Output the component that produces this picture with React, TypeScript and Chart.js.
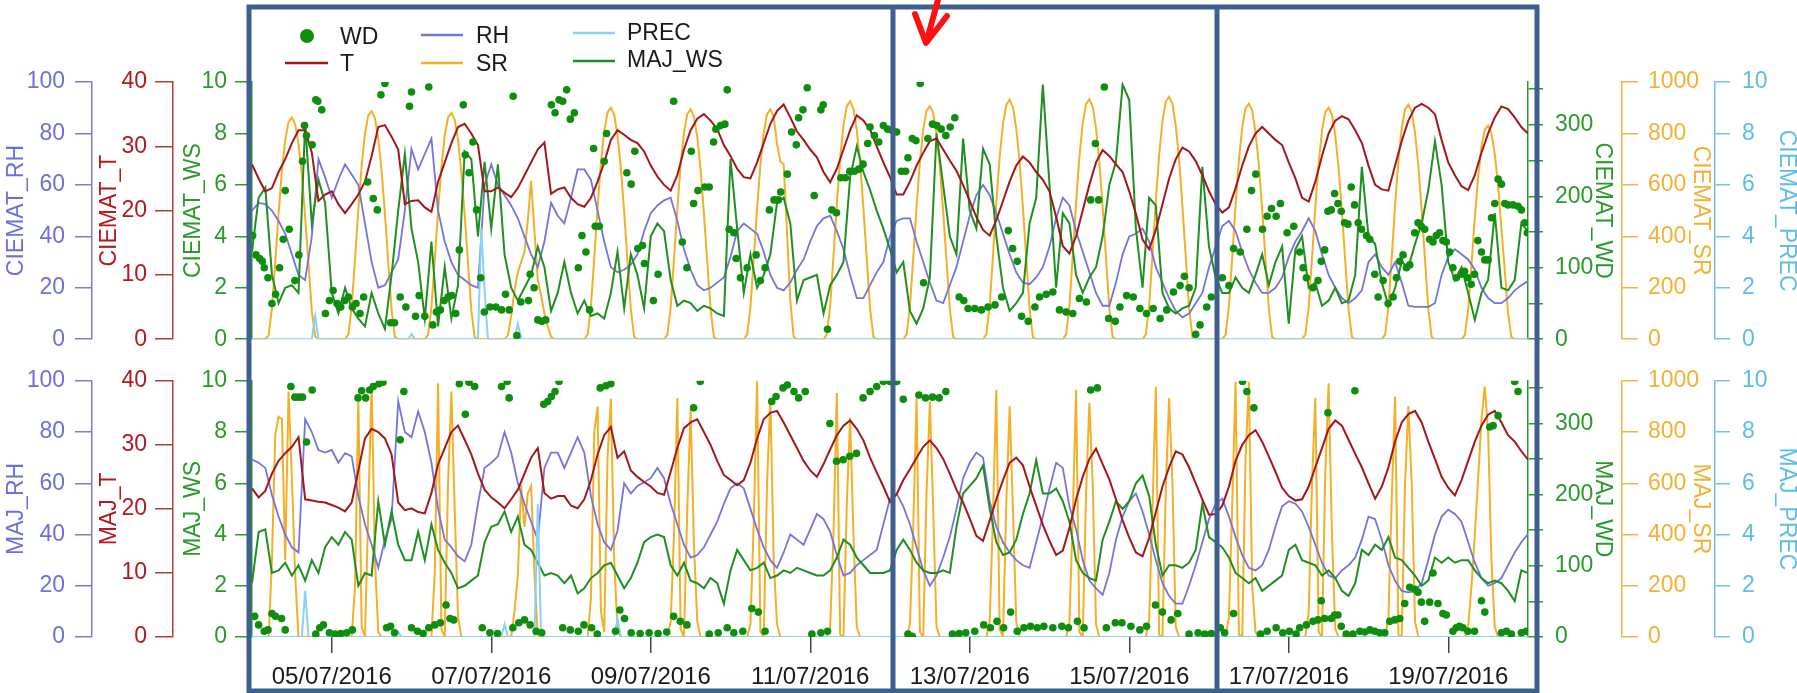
import React, { useEffect, useRef } from "react";
import { Chart, registerables } from "chart.js";

Chart.register(...registerables);

const FONT = '"Liberation Sans", Arial, Helvetica, sans-serif';

// x axis: hours since 04/07/2016 00:00
const X_MIN = 0;
const X_MAX = 384;
const dateTickHours = [24, 72, 120, 168, 216, 264, 312, 360];
const dateTickLabels = ["05/07/2016", "07/07/2016", "09/07/2016", "11/07/2016", "13/07/2016", "15/07/2016", "17/07/2016", "19/07/2016"];

const rhTicks = [0, 20, 40, 60, 80, 100];
const tTicks = [0, 10, 20, 30, 40];
const wsTicks = [0, 2, 4, 6, 8, 10];
const wdTicks = [0, 50, 100, 150, 200, 250, 300, 350];
const srTicks = [0, 200, 400, 600, 800, 1000];
const precTicks = [0, 2, 4, 6, 8, 10];

// ---------- CIEMAT (top panel) ----------
// 2-hourly values
const ciematT: number[] = [
  27.2, 25, 23, 23.5, 26, 28, 30.5, 32.5, 32.5, 29, 21.5, 22.5,
  23, 21, 19.6, 21, 22.5, 24.5, 28.5, 33, 33.3, 31.5, 29.5, 21,
  21.5, 21.6, 20.5, 19.8, 24.5, 27.5, 30.5, 33, 33.5, 32, 30.2, 23,
  23, 23.6, 22.8, 22.1, 23.5, 25.5, 27.5, 29.5, 30.6, 22.6, 23.3, 23.6,
  22, 21, 20.6, 22, 24.5, 27.5, 31, 32.5, 31.8, 31, 30.5, 29.2,
  27, 25.3, 24, 23.1, 25.5, 29.5, 32.5, 34.3, 35, 34, 32.7, 30.2,
  28.5, 26.5, 25.2, 25, 27.5, 30.5, 33.5, 35.5, 36.5, 34.5, 32.3, 31,
  29.5, 28.3, 26, 24.4, 26.5, 29.5, 32.5, 34.8, 34, 32.6, 30, 27.5,
  25.2, 22.5, 22.5, 24.5, 27, 29, 30.8, 31.2, 29.5, 27.8, 26.2, 24,
  21.5, 19, 17, 16.1, 18.5, 21.5, 24.5, 27, 28.4, 27.5, 26, 24.8,
  23, 19, 14.5, 13.3, 16, 20, 24, 27.5, 29.4, 28.5, 27.2, 26,
  23, 19.5, 15.5, 14, 17, 21, 25, 28, 29.8, 29.2, 27.7, 25.5,
  23, 21, 19.7, 20.5, 23.5, 27, 30, 32, 33, 32, 31, 30.2,
  27.5, 25, 22, 21.4, 24.5, 28.5, 32, 34, 34.7, 34.2, 32.5, 30.5,
  27, 24, 23.3, 23.1, 27, 30.8, 34, 36, 36.6, 36, 35, 31,
  27.5, 25.5, 23.8, 23.2, 25.5, 29, 32, 34.5, 36.2, 35.8, 34.5, 33,
  32,
];

const ciematRH: number[] = [
  50, 53, 52.5, 50, 46, 41, 33, 25, 23, 40, 70, 63,
  55, 62, 68, 64, 60, 45, 30, 20, 21, 26, 31, 50,
  74, 66, 72, 78, 50, 38, 30, 25, 23, 21, 20, 60,
  68, 60, 56, 52, 47, 40, 33, 28, 38, 53, 48, 45,
  55, 66, 66, 62, 50, 38, 28, 26, 27, 29, 33, 42,
  49, 52, 54, 55, 46, 35, 27, 21, 19, 20, 22, 24,
  32, 42, 45, 43, 41, 34, 25, 20, 19, 22, 27, 31,
  38, 44, 47, 48, 42, 35, 25, 16, 16, 21, 26, 30,
  40, 46, 47, 47, 38, 30, 22, 15, 14, 21, 28, 38,
  48, 56, 60, 56, 49, 41, 33, 26, 22, 21.4, 24, 28,
  36, 47, 55, 52, 42, 34, 26, 18, 13, 13, 22, 33,
  40, 41, 43, 38, 28, 22, 16, 11, 8.5, 10, 14, 18,
  28, 36, 44, 46, 42, 34, 27, 22, 18, 18, 20, 24,
  32, 38, 42, 47, 42, 33, 25, 20, 16, 14, 16, 19,
  30, 33, 28, 25, 30, 22, 13, 12.6, 12.6, 12.6, 14, 25,
  32, 35, 33, 31, 27, 20, 16, 14, 14, 16, 19, 21,
  22.6,
];

const ciematWS: number[] = [
  3.4, 5.5, 5.9, 2.5, 1.4, 2.0, 2.1, 1.8, 8.4, 4.5, 6.2, 5.3,
  1.8, 1.0, 2.0, 1.2, 0.8, 0.5, 1.8, 1.0, 0.4, 2.5, 5.0, 7.2,
  4.3, 3.0, 0.8, 3.8, 0.5, 2.8, 0.8, 2.1, 7.3, 7.0, 4.0, 6.9,
  4.3, 6.8, 3.3, 2.0, 1.5, 2.0, 2.5, 3.6, 2.8, 1.1, 1.8, 3.0,
  1.8, 1.0, 1.5, 0.9, 1.0, 0.8, 1.8, 3.4, 1.2, 3.3, 2.5, 1.2,
  4.0, 4.5, 4.2, 2.3, 1.3, 1.5, 1.4, 1.1, 1.3, 1.2, 1.0, 0.9,
  7.0, 4.3, 1.8, 3.3, 2.0, 2.5, 3.3, 5.3, 5.5, 4.5, 1.5, 2.3,
  2.4, 2.5, 1.0, 2.1, 2.5, 3.0, 6.3, 7.5, 6.5, 5.8, 5.0, 4.3,
  3.5, 2.6, 3.0, 1.1, 0.6, 1.2, 2.4, 8.0, 6.0, 4.0, 3.3, 7.8,
  5.0, 4.3, 7.4, 6.8, 4.0, 2.0, 1.1, 1.4, 1.8, 4.5, 5.5, 9.9,
  6.0, 2.0, 4.9, 4.5, 2.5, 1.8, 2.4, 2.8, 4.0, 6.0, 6.9, 9.9,
  9.3, 4.3, 2.0, 5.5, 5.2, 1.8, 1.2, 1.0, 1.2, 1.3, 2.0, 6.7,
  3.6, 2.4, 1.8, 1.8, 2.4, 2.0, 1.8, 2.5, 3.3, 2.1, 3.0, 3.6,
  0.6, 3.5, 4.0, 2.0, 2.2, 1.3, 1.5, 2.0, 1.4, 1.5, 2.5, 6.7,
  4.0, 3.7, 2.2, 1.3, 2.0, 3.0, 2.8, 3.7, 4.5, 5.8, 7.7, 6.0,
  3.0, 2.3, 2.8, 1.8, 0.75, 1.8, 2.3, 4.9, 2.0, 1.9, 2.3, 4.5,
  4.2,
];

// hourly values
const ciematSR: number[] = [
  0, 0, 0, 0, 0, 15, 120, 300, 490, 655, 775, 845, 862, 835, 760, 640, 475, 295, 110, 10, 0, 0, 0, 0,
  0, 0, 0, 0, 0, 18, 125, 310, 505, 675, 800, 870, 887, 860, 780, 655, 490, 300, 115, 9, 0, 0, 0, 0,
  0, 0, 0, 0, 0, 17, 122, 308, 500, 668, 792, 862, 880, 855, 775, 650, 485, 298, 112, 8, 0, 0, 0, 0,
  0, 0, 0, 0, 0, 15, 90, 190, 260, 300, 340, 460, 616, 420, 230, 170, 100, 50, 10, 0, 0, 0, 0, 0,
  0, 0, 0, 0, 0, 18, 128, 315, 513, 684, 810, 882, 900, 873, 792, 666, 495, 306, 117, 9, 0, 0, 0, 0,
  0, 0, 0, 0, 0, 17, 125, 312, 508, 678, 803, 875, 893, 866, 786, 660, 490, 303, 116, 9, 0, 0, 0, 0,
  0, 0, 0, 0, 0, 17, 125, 312, 508, 678, 803, 875, 893, 866, 760, 690, 680, 420, 150, 9, 0, 0, 0, 0,
  0, 0, 0, 0, 0, 18, 130, 325, 527, 703, 833, 906, 925, 897, 814, 684, 509, 315, 120, 9, 0, 0, 0, 0,
  0, 0, 0, 0, 0, 18, 127, 317, 516, 689, 815, 888, 906, 879, 797, 670, 498, 308, 118, 9, 0, 0, 0, 0,
  0, 0, 0, 0, 0, 19, 130, 326, 531, 708, 838, 912, 931, 903, 819, 689, 512, 317, 121, 9, 0, 0, 0, 0,
  0, 0, 0, 0, 0, 19, 131, 327, 532, 709, 840, 914, 933, 905, 821, 690, 513, 317, 121, 9, 0, 0, 0, 0,
  0, 0, 0, 0, 0, 19, 132, 330, 538, 717, 849, 924, 943, 915, 830, 698, 519, 321, 123, 9, 0, 0, 0, 0,
  0, 0, 0, 0, 0, 18, 128, 321, 522, 696, 824, 898, 916, 889, 806, 678, 504, 311, 119, 9, 0, 0, 0, 0,
  0, 0, 0, 0, 0, 18, 126, 315, 513, 684, 810, 882, 900, 873, 792, 666, 495, 306, 117, 9, 0, 0, 0, 0,
  0, 0, 0, 0, 0, 18, 128, 319, 520, 693, 821, 894, 912, 885, 803, 675, 502, 310, 119, 9, 0, 0, 0, 0,
  0, 0, 0, 0, 0, 16, 116, 290, 473, 631, 750, 815, 830, 800, 720, 600, 430, 270, 100, 8, 0, 0, 0, 0,
  0,
];

// [hour, value]
const ciematPREC: number[][] = [
  [0, 0], [18, 0], [19, 0.9], [20, 0], [47, 0], [48, 0.2], [49, 0], [68, 0], [69, 4.3], [70, 1.9], [71, 0],
  [79, 0], [80, 0.6], [81, 0], [384, 0],
];

const ciematWD: number[][] = [
  [0.2, 145], [1.2, 118], [2.3, 113], [3.1, 109], [3.7, 100], [4.8, 86], [6, 50], [7.1, 63], [8.3, 100], [9.4, 140],
  [10, 208], [11.2, 154], [12.9, 82], [14.1, 118], [15.2, 249], [15.8, 299], [16.4, 285], [18.1, 272], [19.2, 335], [19.8, 333],
  [21, 321], [22.1, 36], [23.3, 54], [24.4, 68], [25.6, 50], [26.7, 45], [27.9, 54], [29, 59], [30.2, 45], [31.3, 50],
  [32.5, 36], [33.6, 59], [34.8, 220], [36.5, 197], [37.7, 181], [38.8, 342], [40, 358], [41.7, 23], [42.9, 23], [44.6, 59],
  [46.3, 45], [47.4, 326], [48, 346], [49.2, 32], [50.3, 61], [52, 32], [53.2, 353], [54.4, 20], [55.5, 38], [56.7, 41],
  [57.8, 54], [59, 59], [60.1, 61], [61.3, 36], [62.4, 125], [63.6, 328], [64.2, 258], [65.3, 233], [66.5, 276], [67.6, 181],
  [68.8, 86], [69.9, 38], [71.6, 45], [73.4, 45], [75.1, 41], [76.3, 63], [77.4, 41], [78.6, 340], [79.7, 5], [80.9, 52],
  [83.2, 54], [83.7, 91], [84.9, 72], [86, 27], [87.2, 25], [88.4, 27], [90.1, 328], [91.2, 317], [92.4, 335], [93.5, 333],
  [94.7, 349], [95.8, 308], [97, 317], [98.2, 100], [99.3, 145], [100.5, 122], [101.6, 41], [102.8, 267], [103.3, 158], [104.5, 158],
  [106.7, 288], [106, 249], [112.8, 233], [114.1, 217], [115.2, 263], [116.1, 127], [117.5, 131], [118.1, 106], [120.8, 54], [122.2, 91],
  [126.9, 333], [129.5, 136], [130.9, 100], [132.2, 263], [132.9, 190], [134.2, 208], [136.3, 213], [137.6, 213], [138.9, 276], [139.6, 294],
  [141, 299], [142.3, 301], [143, 349], [143.6, 154], [145, 149], [145.7, 113], [147, 86], [149, 100], [151.7, 118], [153, 82],
  [154.4, 100], [155.7, 181], [157.1, 195], [158.4, 195], [159.1, 206], [161.1, 231], [162.4, 290], [163.8, 272], [164.5, 310], [165.8, 321],
  [167.1, 352], [169.2, 201], [171.2, 321], [171.9, 328], [173.2, 14], [174.5, 181], [175.9, 177], [177.2, 226], [178.6, 226], [179.9, 235],
  [181.3, 235], [182.6, 238], [183.9, 245], [185.3, 274], [186, 297], [187.3, 285], [188.6, 276], [190, 299], [191.3, 294], [192.7, 292],
  [194, 290], [195.4, 235], [196.7, 235], [197.4, 254], [198.7, 281], [199.8, 278], [201.1, 358], [202.1, 79], [203.4, 281], [204.8, 301],
  [206.1, 299], [207.4, 294], [208.8, 285], [210.1, 297], [211.5, 310], [212.8, 59], [214.2, 54], [215.5, 43], [217.5, 43], [219.5, 41],
  [221.5, 45], [223.6, 48], [225.6, 59], [227.6, 152], [228.9, 127], [230.3, 109], [231.6, 32], [233.6, 25], [235.6, 45], [237, 59],
  [239, 63], [241, 66], [243, 41], [245, 38], [247, 36], [249, 57], [251.1, 52], [252.4, 195], [253.8, 274], [254.8, 195],
  [256.5, 353], [257.8, 29], [259.8, 25], [261.2, 45], [263.2, 61], [265.2, 59], [267.2, 43], [269.2, 36], [271.2, 43], [273.3, 29],
  [275.3, 41], [277.3, 66], [279.3, 75], [280.6, 88], [282, 72], [284, 7], [285.3, 20], [287.3, 45], [288.7, 59], [292, 86],
  [294, 75], [295.4, 127], [297.4, 122], [299.4, 154], [300.8, 208], [302.1, 231], [304.1, 154], [305.5, 172], [306.8, 183], [308.2, 172],
  [309.5, 190], [311.5, 149], [313.5, 158], [315.3, 122], [316.3, 100], [317.3, 86], [319.3, 72], [320.8, 82], [321.8, 109], [322.8, 125],
  [323.8, 179], [324.8, 181], [325.8, 204], [326.8, 190], [327.8, 179], [328.8, 163], [329.8, 161], [330.8, 213], [331.8, 188], [332.9, 163],
  [333.9, 154], [335.4, 145], [336.4, 140], [337.9, 91], [338.9, 59], [340.4, 82], [341.9, 50], [343.4, 59], [344.4, 86], [345.4, 109],
  [346.4, 118], [347.4, 100], [348.4, 104], [349.9, 149], [350.9, 163], [351.9, 158], [352.9, 154], [354.4, 140], [355.4, 136], [356.4, 145],
  [357.4, 149], [358.4, 138], [359.4, 136], [360.4, 122], [361.4, 100], [362.4, 86], [363.9, 91], [364.9, 95], [365.9, 86], [366.9, 77],
  [367.9, 91], [368.9, 138], [370, 122], [371, 111], [372, 111], [373, 170], [374, 190], [375, 224], [376, 217], [377, 190],
  [378, 188], [379.5, 188], [381, 186], [382, 181], [383, 163], [383.8, 149],
];

// ---------- MAJ (bottom panel) ----------
const majT: number[] = [
  23.2, 21.8, 22.8, 25.5, 27.5, 28.7, 29.7, 31.2, 21.5, 21.3, 21.1, 21.0,
  20.6, 20.2, 19.6, 21, 26, 31, 32.5, 32, 31, 28.5, 21, 19.8,
  20.1, 19.5, 19.3, 22.5, 27, 29.5, 32, 33, 30.8, 28.5, 25.5, 23,
  21.8, 21, 20.1, 21.5, 23, 25.5, 28, 29.5, 22.5, 21.6, 22, 22,
  20.5, 20.1, 21.5, 24.5, 28.5, 31.5, 32.8, 28, 29, 26, 25, 24.2,
  23.5, 22.5, 22.2, 25.8, 29.5, 32.6, 33.5, 34, 32, 30, 27.5, 25.3,
  24.5, 23.7, 24.5, 27.2, 31, 34, 35, 35.3, 33.5, 31.5, 29.5, 27.5,
  26, 25, 27, 29.3, 31.5, 33, 33.8, 32.5, 30.7, 28, 25.7, 23.5,
  21.1, 22.3, 24.5, 26.2, 28, 29.7, 30.7, 29.5, 27.8, 25.5, 23, 21,
  18.5, 15.8, 15, 18.2, 21.5, 24.5, 27.2, 28, 26.8, 23.5, 20.5, 17.5,
  15, 12.8, 13.5, 17, 21.5, 25, 27.8, 29.4, 27, 24.6, 21.5, 18.2,
  15.5, 13.2, 12.6, 15.5, 19.5, 23.5, 26.5, 29, 28.5, 26.5, 24, 21.5,
  19.1, 19.2, 20.5, 23.5, 27.5, 30, 31.5, 32.3, 30.5, 28.2, 25.8, 23.3,
  22, 21.3, 21.5, 23.5, 26.5, 29.5, 32.5, 33.8, 33, 30.8, 28.6, 26.5,
  24, 21.6, 23.5, 26.5, 30.5, 33.5, 34.8, 35.3, 33.5, 30.5, 27.8, 25,
  23.3, 22.1, 24.5, 27.5, 30.5, 33, 34.7, 35.3, 33.5, 31.5, 30.5, 29,
  27.7,
];

const majRH: number[] = [
  69.3, 68, 66, 55.4, 47, 40, 35, 33, 85, 80, 73, 72,
  73, 68, 71.8, 70.5, 55, 44, 36, 27, 38, 46, 92, 80,
  78, 88, 80, 68, 50, 38, 35, 31.5, 29.5, 36, 52, 66,
  68, 70.5, 80, 72, 60, 52, 45, 38, 66, 72, 72, 66,
  72, 78, 72, 55, 44, 37, 34, 41.5, 60, 56, 59, 60.4,
  62, 66, 62, 52, 44, 36, 31, 32, 35, 40, 45, 52,
  58, 60, 58, 50, 42, 35, 30, 27, 33, 40, 38, 36,
  42, 48, 46, 41, 32, 24, 25, 28, 30, 32, 34, 44,
  54, 56, 51, 44, 35, 26, 20, 24, 31, 39, 50, 62,
  68, 72, 70, 53, 43, 37, 33, 30, 28, 27, 37, 47,
  58, 68, 66, 51, 42, 30, 22, 19, 16.5, 25, 38, 47,
  53, 56, 49, 40, 30, 21, 16, 13, 13, 20, 28, 37,
  46, 52, 54, 47, 39, 32, 27, 26, 28, 34, 43, 51,
  53, 52, 49, 43, 36, 29, 24, 23, 26, 28, 31, 38,
  47, 46, 38, 28, 22, 18, 17.4, 18, 21, 30, 40, 47,
  49.7, 48, 45, 37, 29, 23, 20, 21, 23, 28, 33, 37,
  40.2,
];

const majWS: number[] = [
  2.1, 4.1, 4.2, 2.5, 2.6, 2.9, 2.4, 2.8, 2.2, 3.0, 2.5, 3.5,
  3.9, 3.6, 4.1, 3.8, 2.0, 2.5, 2.4, 5.3, 3.6, 4.9, 3.6, 3.0,
  3.0, 4.1, 3.0, 4.4, 3.4, 2.9, 2.5, 1.9, 2.0, 2.2, 2.4, 3.7,
  4.3, 4.4, 4.9, 4.1, 4.7, 3.6, 3.4, 2.9, 2.4, 2.5, 2.4, 2.1,
  2.4, 1.7, 1.9, 2.3, 2.5, 2.8, 2.9, 2.4, 1.9, 2.3, 2.9, 3.7,
  3.9, 4.0, 3.9, 2.8, 2.4, 2.9, 2.2, 2.1, 1.9, 2.3, 2.1, 1.3,
  2.6, 3.4, 3.0, 2.6, 2.7, 2.9, 2.3, 2.4, 2.6, 2.5, 2.7, 2.6,
  2.5, 2.4, 2.4, 2.6, 3.1, 3.8, 3.6, 3.1, 2.8, 2.5, 2.5, 2.5,
  2.6, 3.4, 3.8, 3.4, 2.9, 2.6, 2.5, 2.5, 2.6, 2.5, 4.3, 5.6,
  5.9, 6.2, 6.7, 5.0, 3.7, 3.2, 3.3, 3.8, 4.8, 5.6, 6.9, 5.6,
  5.6, 5.8, 5.3, 4.5, 3.0, 2.5, 2.3, 2.2, 3.8, 4.5, 5.3, 5.0,
  5.3, 6.0, 6.3, 5.5, 3.6, 2.4, 2.8, 2.8, 2.7, 2.9, 3.4, 5.2,
  3.9, 3.7, 3.5, 3.1, 2.5, 2.3, 2.1, 2.3, 1.8, 2.0, 2.2, 2.4,
  3.4, 3.6, 3.0, 2.9, 2.8, 2.4, 2.6, 2.3, 1.8, 1.6, 2.1, 3.4,
  3.2, 3.6, 3.4, 3.9, 3.1, 3.0, 2.7, 2.4, 2.0, 2.2, 3.1, 2.9,
  3.1, 2.9, 3.0, 3.0, 2.6, 2.3, 2.1, 2.2, 2.1, 1.8, 1.4, 2.6,
  2.5,
];

const majSR: number[] = [
  0, 0, 0, 0, 0, 0, 300, 790, 860, 850, 300, 958, 620, 240, 0, 0, 0, 0, 0, 0, 0, 0, 0, 0,
  0, 0, 0, 0, 0, 0, 0, 200, 933, 40, 0, 500, 990, 300, 20, 0, 0, 0, 0, 0, 0, 0, 0, 0,
  0, 0, 0, 0, 0, 0, 0, 250, 990, 30, 0, 600, 958, 500, 80, 0, 0, 0, 0, 0, 0, 0, 0, 0,
  0, 0, 0, 0, 0, 0, 0, 100, 238, 592, 430, 560, 590, 250, 0, 0, 0, 0, 0, 0, 0, 0, 0, 0,
  0, 0, 0, 0, 0, 0, 150, 800, 900, 100, 20, 700, 930, 300, 30, 0, 0, 0, 0, 0, 0, 0, 0, 0,
  0, 0, 0, 0, 0, 0, 60, 400, 933, 30, 0, 500, 889, 364, 60, 0, 0, 0, 0, 0, 0, 0, 0, 0,
  0, 0, 0, 0, 0, 0, 50, 450, 1000, 20, 0, 600, 933, 300, 50, 0, 0, 0, 0, 0, 0, 0, 0, 0,
  0, 0, 0, 0, 0, 0, 40, 400, 952, 10, 0, 520, 857, 400, 40, 0, 0, 0, 0, 0, 0, 0, 0, 0,
  0, 0, 0, 0, 0, 0, 50, 430, 933, 20, 0, 560, 920, 500, 40, 0, 0, 0, 0, 0, 0, 0, 0, 0,
  0, 0, 0, 0, 0, 0, 60, 480, 965, 30, 0, 520, 901, 500, 60, 0, 0, 0, 0, 0, 0, 0, 0, 0,
  0, 0, 0, 0, 0, 0, 60, 470, 965, 20, 0, 560, 914, 600, 50, 0, 0, 0, 0, 0, 0, 0, 0, 0,
  0, 0, 0, 0, 0, 0, 70, 500, 977, 10, 0, 580, 933, 600, 40, 0, 0, 0, 0, 0, 0, 0, 0, 0,
  0, 0, 0, 0, 0, 0, 80, 520, 996, 10, 0, 700, 996, 200, 20, 0, 0, 0, 0, 0, 0, 0, 0, 0,
  0, 0, 0, 0, 0, 0, 100, 600, 933, 20, 0, 640, 990, 400, 30, 0, 0, 0, 0, 0, 0, 0, 0, 0,
  0, 0, 0, 0, 0, 0, 80, 540, 939, 10, 0, 600, 901, 600, 60, 0, 0, 0, 0, 0, 0, 0, 0, 0,
  0, 0, 0, 0, 0, 0, 40, 200, 400, 620, 850, 977, 800, 300, 40, 0, 0, 0, 0, 0, 0, 0, 0, 0,
  0,
];

const majPREC: number[][] = [
  [0, 0], [15, 0], [16, 1.8], [17, 0], [43, 0], [44, 0.2], [45, 0], [75, 0], [76, 0.5], [77, 0],
  [85, 0], [86, 5.2], [87, 0], [109, 0], [110, 0.7], [111, 0], [384, 0],
];

const majWD: number[][] = [
  [0.8, 29], [2, 17], [3.7, 8], [4.8, 10], [6, 33], [7.1, 29], [8.9, 26], [10, 10], [11.7, 352], [12.9, 337],
  [14.1, 337], [15.2, 337], [16.4, 274], [18.1, 347], [19.2, 4], [20.4, 13], [21.5, 17], [23.3, 6], [25, 4], [26.7, 5],
  [28.5, 6], [30.2, 10], [31.9, 336], [33, 346], [34.2, 336], [35.4, 347], [36.5, 352], [38.2, 356], [39.4, 358], [40.5, 13],
  [41.7, 15], [42.9, 6], [44.6, 277], [45.7, 345], [48, 13], [49.8, 8], [51.5, 5], [53.2, 13], [55, 17], [56.7, 20],
  [58.4, 45], [59.6, 26], [60.7, 24], [62.4, 356], [64.2, 313], [65.3, 358], [67, 352], [69.3, 13], [71.6, 6], [73.9, 5],
  [75.1, 352], [76.8, 359], [77.4, 336], [78.5, 13], [80.3, 20], [82, 24], [83.7, 17], [85.5, 8], [87.2, 6], [87.8, 327],
  [89, 331], [90.1, 338], [91.2, 345], [92.4, 359], [93.5, 13], [95.8, 10], [98.2, 8], [99.9, 17], [102.2, 13], [103.9, 4],
  [104.8, 350], [106.5, 353], [108, 356], [109.4, 8], [110.7, 38], [112.1, 26], [114.1, 6], [116.8, 5], [119.5, 6], [122.2, 5],
  [124.8, 7], [126.9, 29], [128.9, 22], [130.9, 17], [132.9, 322], [134.9, 359], [137.6, 4], [140.3, 6], [143, 13], [145, 6],
  [147.7, 8], [150.4, 40], [152.4, 35], [154.4, 8], [156.4, 331], [157.7, 338], [159.8, 350], [161.1, 354], [163.1, 345], [164.5, 336],
  [166.5, 345], [168.5, 4], [171.2, 6], [173.2, 8], [173.9, 300], [175.9, 247], [177.9, 249], [179.9, 254], [181.9, 258], [183.9, 336],
  [186, 345], [188, 352], [190, 359], [192, 359], [194, 359], [196, 334], [197.4, 4], [198.7, 1], [200.7, 340], [202.7, 336],
  [204.8, 337], [206.8, 336], [208.8, 345], [210.8, 4], [212.8, 5], [214.8, 6], [217.5, 8], [220.2, 17], [222.2, 13], [224.2, 22],
  [226.2, 13], [228.3, 35], [230.3, 8], [232.3, 13], [234.3, 15], [236.3, 13], [238.3, 15], [241, 13], [243.7, 15], [245.7, 13],
  [248.4, 22], [250.4, 13], [252.4, 347], [254.4, 350], [257.1, 13], [259.8, 20], [261.8, 20], [264.5, 15], [267.2, 10], [269.2, 15],
  [271.9, 45], [274, 35], [276.6, 24], [278.6, 33], [282, 4], [284.7, 6], [286.7, 4], [288.7, 5], [291.4, 13], [292.7, 6],
  [295.4, 33], [298.1, 359], [299.4, 345], [301.5, 322], [303.5, 4], [305.5, 8], [308.2, 13], [310.2, 6], [312.2, 8], [314.2, 4],
  [315.3, 13], [317.3, 17], [319.3, 22], [320.8, 24], [321.8, 51], [322.8, 26], [323.8, 315], [324.8, 26], [325.8, 31], [326.8, 31],
  [327.8, 15], [329.3, 4], [331.3, 4], [331.9, 346], [333.4, 8], [334.9, 7], [336.4, 10], [337.9, 8], [339.4, 6], [340.9, 6],
  [342.4, 22], [343.9, 24], [345.4, 26], [346.9, 47], [348.4, 70], [349.9, 67], [350.9, 63], [351.9, 49], [352.9, 22], [354.4, 49],
  [355.4, 90], [356.9, 47], [358.4, 33], [359.4, 31], [361.4, 8], [362.4, 13], [363.4, 15], [364.4, 13], [365.9, 8], [367.9, 8],
  [370, 51], [371, 35], [372.5, 295], [373.5, 297], [375, 311], [376, 6], [377.5, 8], [379, 4], [380, 359], [381, 345],
  [382, 6], [383.5, 8],
];

// ---------- styles ----------
const C = {
  rh: "#6F6FDB", rhAxis: "#7C7CDD", rhLine: "#7474DC",
  t: "#B3191E", tAxis: "#B53A3A", tLine: "#A5161A",
  ws: "#2A9A2A", wsAxis: "#2A9A2A", wsLine: "#1F8F1F",
  wd: "#0D8E0D",
  sr: "#F2B134", srAxis: "#F0B545", srLine: "#F5AF26",
  prec: "#5CBDE9", precAxis: "#6EC3EA", precLine: "#88D2F2",
  frame: "#3F5F8F",
};

const onGrid = (vals: number[], step: number) => vals.map((y, i) => ({ x: i * step, y }));
const fromPairs = (p: number[][]) => p.map(([x, y]) => ({ x, y }));

function yScale(o: any) {
  return {
    type: "linear",
    position: o.position,
    weight: o.weight,
    min: o.min,
    max: o.max,
    afterBuildTicks: (s: any) => {
      s.ticks = o.ticks.map((v: number) => ({ value: v }));
    },
    afterFit: (s: any) => {
      s.width = o.width;
    },
    grid: { drawOnChartArea: false, drawTicks: true, tickLength: o.tickLength, color: o.axisColor, lineWidth: 1.5 },
    border: { display: true, color: o.axisColor, width: 1.5 },
    ticks: {
      color: o.color,
      font: { size: 23, family: FONT },
      padding: o.pad,
      autoSkip: false,
      callback: o.cb || ((v: any) => String(v)),
    },
    title: {
      display: true,
      text: o.title,
      color: o.color,
      font: { size: 23, family: FONT },
      padding: { top: o.titlePad, bottom: 0 },
    },
  };
}

function buildConfig(p: any) {
  const xScale: any = p.showX
    ? {
        type: "linear",
        min: X_MIN,
        max: X_MAX,
        position: "bottom",
        afterBuildTicks: (s: any) => {
          s.ticks = dateTickHours.map((v) => ({ value: v }));
        },
        afterFit: (s: any) => {
          s.height = 56;
        },
        grid: { drawOnChartArea: false, drawTicks: true, tickLength: 16, color: "#444", lineWidth: 1.5 },
        border: { display: false },
        ticks: {
          color: "#1a1a1a",
          font: { size: 24, family: FONT },
          padding: 10,
          maxRotation: 0,
          autoSkip: false,
          callback: (v: any) => {
            const i = dateTickHours.indexOf(v);
            return i >= 0 ? dateTickLabels[i] : "";
          },
        },
      }
    : { type: "linear", min: X_MIN, max: X_MAX, display: false };

  return {
    type: "line",
    data: {
      datasets: [
        {
          label: "WD", data: fromPairs(p.wd), yAxisID: "wd", showLine: false,
          pointRadius: 3.8, pointBackgroundColor: C.wd, pointBorderWidth: 0, borderColor: C.wd,
        },
        { label: "PREC", data: fromPairs(p.prec), yAxisID: "prec", borderColor: C.precLine, borderWidth: 2, pointRadius: 0 },
        { label: "T", data: onGrid(p.t, 2), yAxisID: "t", borderColor: C.tLine, borderWidth: 2, pointRadius: 0 },
        { label: "WS", data: onGrid(p.ws, 2), yAxisID: "ws", borderColor: C.wsLine, borderWidth: 2, pointRadius: 0 },
        { label: "RH", data: onGrid(p.rh, 2), yAxisID: "rh", borderColor: C.rhLine, borderWidth: 1.8, pointRadius: 0 },
        { label: "SR", data: onGrid(p.sr, 1), yAxisID: "sr", borderColor: C.srLine, borderWidth: 2, pointRadius: 0 },
      ],
    },
    options: {
      responsive: false,
      maintainAspectRatio: false,
      animation: false,
      parsing: false,
      events: [],
      layout: { padding: { top: p.padTop, bottom: p.padBottom, left: 0, right: 0 } },
      plugins: { legend: { display: false }, tooltip: { enabled: false } },
      scales: {
        x: xScale,
        rh: yScale({ position: "left", weight: 3, min: 0, max: 100, ticks: rhTicks, width: 92, tickLength: 17, pad: 10,
          color: C.rh, axisColor: C.rhAxis, title: p.prefix + "_RH", titlePad: 3 }),
        t: yScale({ position: "left", weight: 2, min: 0, max: 40, ticks: tTicks, width: 81, tickLength: 18, pad: 8,
          color: C.t, axisColor: C.tAxis, title: p.prefix + "_T", titlePad: 4 }),
        ws: yScale({ position: "left", weight: 1, min: 0, max: 10, ticks: wsTicks, width: 79, tickLength: 17, pad: 8,
          color: C.ws, axisColor: C.wsAxis, title: p.prefix + "_WS", titlePad: 7 }),
        wd: yScale({ position: "right", weight: 1, min: 0, max: 360, ticks: wdTicks, width: 94, tickLength: 15, pad: 12,
          color: C.ws, axisColor: C.wsAxis, title: p.prefix + "_WD", titlePad: 6,
          cb: (v: any) => (v % 100 === 0 ? String(v) : "") }),
        sr: yScale({ position: "right", weight: 2, min: 0, max: 1000, ticks: srTicks, width: 93, tickLength: 16, pad: 10,
          color: C.sr, axisColor: C.srAxis, title: p.prefix + "_SR", titlePad: 1 }),
        prec: yScale({ position: "right", weight: 3, min: 0, max: 10, ticks: precTicks, width: 82, tickLength: 15, pad: 12,
          color: C.prec, axisColor: C.precAxis, title: p.prefix + "_PREC", titlePad: -3 }),
      },
    },
  };
}

const TOP_H = 365;
const BOT_TOP = 355;
const BOT_H = 693 - BOT_TOP;

export default function App() {
  const topRef = useRef<HTMLCanvasElement | null>(null);
  const botRef = useRef<HTMLCanvasElement | null>(null);

  useEffect(() => {
    const top = new Chart(topRef.current as any, buildConfig({
      prefix: "CIEMAT", showX: false, padTop: 82, padBottom: TOP_H - 346,
      t: ciematT, rh: ciematRH, ws: ciematWS, sr: ciematSR, prec: ciematPREC, wd: ciematWD,
    }) as any);
    const bot = new Chart(botRef.current as any, buildConfig({
      prefix: "MAJ", showX: true, padTop: 372 - BOT_TOP, padBottom: 0,
      t: majT, rh: majRH, ws: majWS, sr: majSR, prec: majPREC, wd: majWD,
    }) as any);
    return () => {
      top.destroy();
      bot.destroy();
    };
  }, []);

  const txt = { fontFamily: FONT, fontSize: 23, fill: "#1a1a1a" } as any;

  return (
    <div style={{ position: "absolute", left: 0, top: 0, width: 1797, height: 693, background: "#fff", overflow: "hidden" }}>
      <canvas ref={topRef} width={1797} height={TOP_H}
        style={{ position: "absolute", left: 0, top: 0, width: 1797, height: TOP_H }} />
      <canvas ref={botRef} width={1797} height={BOT_H}
        style={{ position: "absolute", left: 0, top: BOT_TOP, width: 1797, height: BOT_H }} />
      <svg width={1797} height={693} style={{ position: "absolute", left: 0, top: 0, pointerEvents: "none" }}>
        {/* legend */}
        <circle cx={307} cy={36} r={7} fill={C.wd} />
        <text x={340} y={36} dominantBaseline="central" {...txt}>WD</text>
        <line x1={421} y1={35} x2={463} y2={35} stroke={C.rhLine} strokeWidth={2.5} />
        <text x={476} y={35} dominantBaseline="central" {...txt}>RH</text>
        <line x1={573} y1={33} x2={615} y2={33} stroke={C.precLine} strokeWidth={2.5} />
        <text x={627} y={32} dominantBaseline="central" {...txt}>PREC</text>
        <line x1={285} y1={63} x2={328} y2={63} stroke={C.tLine} strokeWidth={2.5} />
        <text x={340} y={63} dominantBaseline="central" {...txt}>T</text>
        <line x1={421} y1={63} x2={463} y2={63} stroke={C.srLine} strokeWidth={2.5} />
        <text x={476} y={63} dominantBaseline="central" {...txt}>SR</text>
        <line x1={573} y1={61} x2={615} y2={61} stroke={C.wsLine} strokeWidth={2.5} />
        <text x={627} y={59} dominantBaseline="central" {...txt}>MAJ_WS</text>
        {/* frames */}
        <rect x={249} y={7} width={1288} height={684} fill="none" stroke={C.frame} strokeWidth={5} />
        <line x1={893} y1={7} x2={893} y2={691} stroke={C.frame} strokeWidth={5} />
        <line x1={1217} y1={7} x2={1217} y2={691} stroke={C.frame} strokeWidth={5} />
        {/* arrow */}
        <path d="M939 -4 L927 40" stroke="#FF1010" strokeWidth={6} strokeLinecap="round" fill="none" />
        <path d="M915 14 L926 43 L947 16" stroke="#FF1010" strokeWidth={6} strokeLinecap="round" strokeLinejoin="round" fill="none" />
      </svg>
    </div>
  );
}
